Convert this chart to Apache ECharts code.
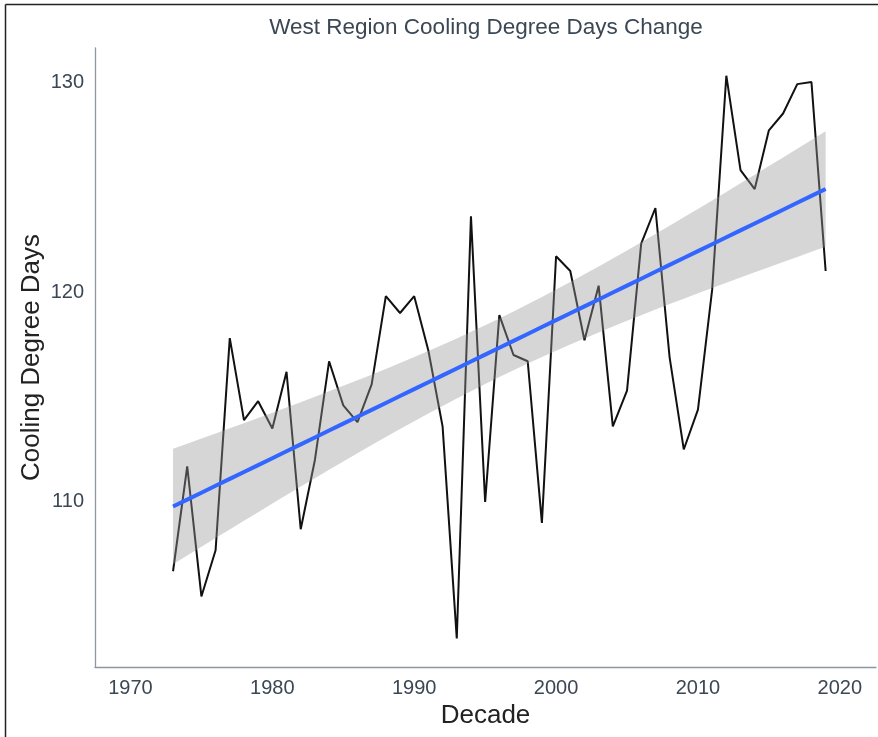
<!DOCTYPE html>
<html>
<head>
<meta charset="utf-8">
<script src="https://cdn.jsdelivr.net/npm/echarts@6/dist/echarts.min.js"></script>
<style>
html,body{margin:0;padding:0;background:#fff;}
#chart{width:878px;height:737px;}
</style>
</head>
<body>
<div id="chart"></div>
<script>
// ---- data ----
const years = [1973,1974,1975,1976,1977,1978,1979,1980,1981,1982,1983,1984,1985,1986,1987,1988,1989,1990,1991,1992,1993,1994,1995,1996,1997,1998,1999,2000,2001,2002,2003,2004,2005,2006,2007,2008,2009,2010,2011,2012,2013,2014,2015,2016,2017,2018,2019];
const cdd = [106.7,111.7,105.5,107.7,117.8,113.9,114.8,113.5,116.2,108.7,112.0,116.7,114.6,113.8,115.6,119.8,119.0,119.8,117.2,113.6,103.5,123.6,110.0,118.9,117.0,116.7,109.0,121.7,121.0,117.7,120.3,113.6,115.3,122.3,124.0,116.9,112.5,114.4,120.1,130.3,125.8,124.9,127.7,128.5,129.9,130.0,121.0];
const xTicks = [1970,1980,1990,2000,2010,2020];
const yTicks = [110,120,130];
const tCrit = 2.014; // t(0.975, df = 45)

// ---- linear fit with 95% confidence band (geom_smooth method="lm") ----
const n = years.length;
const xm = years.reduce((a,b)=>a+b,0)/n;
const ym = cdd.reduce((a,b)=>a+b,0)/n;
let sxx=0, sxy=0;
for(let i=0;i<n;i++){sxx+=(years[i]-xm)**2; sxy+=(years[i]-xm)*(cdd[i]-ym);}
const slope = sxy/sxx, icpt = ym - slope*xm;
let sse=0;
for(let i=0;i<n;i++){const r=cdd[i]-(icpt+slope*years[i]); sse+=r*r;}
const s = Math.sqrt(sse/(n-2));
const fit=[], band=[];
for(let i=0;i<n;i++){
  const x=years[i], f=icpt+slope*x;
  const se = s*Math.sqrt(1/n + (x-xm)**2/sxx);
  fit.push([x,f]); band.push([x,f-tCrit*se,f+tCrit*se]);
}

const labelColor = '#3b4754';
const axisColor = '#8c97a1';
const font = '"Liberation Sans", Arial, sans-serif';

const chart = echarts.init(document.getElementById('chart'), null, {renderer:'canvas'});
chart.setOption({
  animation:false,
  backgroundColor:'#fff',
  title:{text:'West Region Cooling Degree Days Change', left:481, top:11, textAlign:'center',
    textStyle:{fontFamily:font, fontSize:22.5, fontWeight:'normal', color:labelColor}},
  grid:{left:95, right:2, top:48, bottom:70},
  xAxis:{type:'value', min:1967.5, max:2022.55,
    name:'Decade', nameLocation:'middle', nameGap:36, nameMoveOverlap:false,
    nameTextStyle:{fontFamily:font, fontSize:26, color:'#222'},
    axisLine:{show:true, lineStyle:{color:axisColor, width:1.3}},
    axisTick:{show:false},
    splitLine:{show:false},
    axisLabel:{customValues:xTicks, fontFamily:font, fontSize:20, color:labelColor, margin:11, formatter:v=>String(v)}},
  yAxis:{type:'value', min:102.14, max:131.62,
    name:'Cooling Degree Days', nameLocation:'middle', nameGap:50, nameRotate:90, nameMoveOverlap:false,
    nameTextStyle:{fontFamily:font, fontSize:26, color:'#222'},
    axisLine:{show:true, lineStyle:{color:axisColor, width:1.3}},
    axisTick:{show:false},
    splitLine:{show:false},
    axisLabel:{customValues:yTicks, fontFamily:font, fontSize:20, color:labelColor, margin:11}},
  series:[
    {type:'line', data:years.map((y,i)=>[y,cdd[i]]), showSymbol:false, z:2,
      lineStyle:{color:'#111', width:2}},
    {type:'custom', data:band, z:3, silent:true,
      encode:{x:0, y:[1,2]},
      renderItem:function(params, api){
        if(params.dataIndex!==0) return null;
        const top=[], bot=[];
        for(let i=0;i<band.length;i++){
          top.push(api.coord([band[i][0], band[i][2]]));
          bot.push(api.coord([band[i][0], band[i][1]]));
        }
        return {type:'polygon', shape:{points:top.concat(bot.reverse())},
          style:{fill:'rgba(153,153,153,0.4)'}};
      }},
    {type:'line', data:fit, showSymbol:false, z:4,
      lineStyle:{color:'#3366FF', width:4}}
  ],
  graphic:[
    {type:'line', shape:{x1:5.5,y1:4.5,x2:878,y2:4.5}, style:{stroke:'#222', lineWidth:1.5}},
    {type:'line', shape:{x1:5.5,y1:4.5,x2:5.5,y2:737}, style:{stroke:'#222', lineWidth:1.5}}
  ]
});
</script>
</body>
</html>
